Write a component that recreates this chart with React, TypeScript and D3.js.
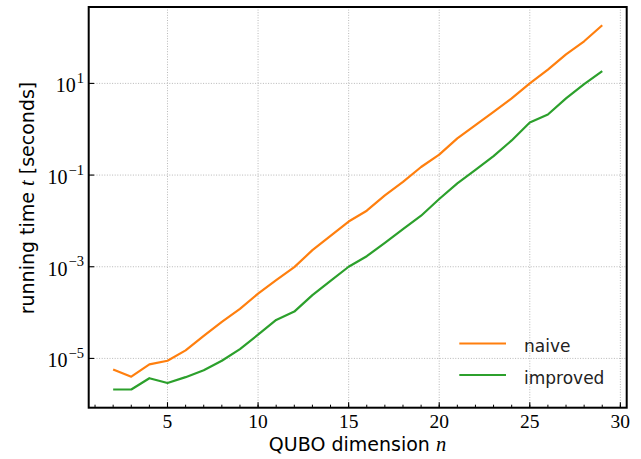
import React from "react";
import * as d3 from "d3";

const dims = [2,3,4,5,6,7,8,9,10,11,12,13,14,15,16,17,18,19,20,21,22,23,24,25,26,27,28,29];
const naive = [5.75e-6,4.0e-6,7.4e-6,8.9e-6,1.5e-5,3.1e-5,6.3e-5,1.2e-4,2.6e-4,5.1e-4,9.8e-4,2.3e-3,4.7e-3,9.7e-3,1.67e-2,3.6e-2,7.1e-2,0.15,0.28,0.63,1.23,2.4,4.7,10,20,43,83,186];
const improved = [2.1e-6,2.1e-6,3.7e-6,2.9e-6,3.9e-6,5.5e-6,8.9e-6,1.6e-5,3.3e-5,6.9e-5,1.05e-4,2.4e-4,4.9e-4,1.0e-3,1.7e-3,3.3e-3,6.6e-3,1.3e-2,3.0e-2,6.6e-2,0.13,0.26,0.57,1.4,2.1,4.7,9.6,18.6];
const xTicks = [5,10,15,20,25,30];
const yTickExps = [-5,-3,-1,1];
const seriesNames = ["naive","improved"];
const seriesColors = ["#ff7f0e","#2ca02c"];

const W = 641, H = 459;
const L = 88.7, R = 626.7, T = 7, B = 407.7;

export default function App() {
  const xmin = d3.min(dims)!, xmax = d3.max(dims)!;
  const xpad = (xmax - xmin) * 0.05;
  const x = d3.scaleLinear().domain([xmin - xpad, xmax + xpad]).range([L, R]);
  const all = naive.concat(improved);
  const lmin = Math.log10(d3.min(all)!), lmax = Math.log10(d3.max(all)!);
  const lpad = (lmax - lmin) * 0.05;
  const y = d3.scaleLog().domain([Math.pow(10, lmin - lpad), Math.pow(10, lmax + lpad)]).range([B, T]);
  const line = d3.line<number>().x((_, i) => x(dims[i])).y(d => y(d));
  const series = [naive, improved];
  const minorX = d3.range(1, 31);
  const serif = "'Liberation Serif', 'DejaVu Serif', serif";
  const sans = "'DejaVu Sans', sans-serif";
  return (
    <svg width={W} height={H} style={{ position: "absolute", left: 0, top: 0, background: "#fff" }}>
      <rect x={0} y={0} width={W} height={H} fill="#fff" />
      {xTicks.map(t => (
        <line key={"gx" + t} x1={x(t)} x2={x(t)} y1={T} y2={B} stroke="#b0b0b0" strokeWidth={0.9} strokeDasharray="1,1.6" />
      ))}
      {yTickExps.map(e => (
        <line key={"gy" + e} x1={L} x2={R} y1={y(Math.pow(10, e))} y2={y(Math.pow(10, e))} stroke="#b0b0b0" strokeWidth={0.9} strokeDasharray="1,1.6" />
      ))}
      {series.map((s, i) => (
        <path key={"s" + i} d={line(s)!} fill="none" stroke={seriesColors[i]} strokeWidth={2.2} strokeLinejoin="round" />
      ))}
      {minorX.map(t => (
        <line key={"mx" + t} x1={x(t)} x2={x(t)} y1={B} y2={B - 3} stroke="#000" strokeWidth={1} />
      ))}
      {xTicks.map(t => (
        <line key={"tx" + t} x1={x(t)} x2={x(t)} y1={B} y2={B - 5.5} stroke="#000" strokeWidth={1.1} />
      ))}
      {yTickExps.map(e => (
        <line key={"ty" + e} x1={L} x2={L + 5.5} y1={y(Math.pow(10, e))} y2={y(Math.pow(10, e))} stroke="#000" strokeWidth={1.1} />
      ))}
      <rect x={L} y={T} width={R - L} height={B - T} fill="none" stroke="#000" strokeWidth={2} />
      {xTicks.map(t => (
        <text key={"lx" + t} x={x(t)} y={427.5} textAnchor="middle" fontFamily={serif} fontSize={19.5}>{t}</text>
      ))}
      {yTickExps.map(e => (
        <text key={"ly" + e} x={84} y={y(Math.pow(10, e)) + 9} textAnchor="end" fontFamily={serif} fontSize={20}>
          10<tspan fontSize={14.5} dx={1} dy={-9.5}>{e < 0 ? "\u2212" + Math.abs(e) : String(e)}</tspan>
        </text>
      ))}
      <text x={357.5} y={451} textAnchor="middle" fontFamily={sans} fontSize={19}>
        QUBO dimension <tspan fontFamily={serif} fontStyle="italic" fontSize={20.5}>n</tspan>
      </text>
      <text transform="translate(34,198) rotate(-90)" textAnchor="middle" fontFamily={sans} fontSize={19}>
        running time <tspan fontFamily={serif} fontStyle="italic" fontSize={20.5}>t</tspan> [seconds]
      </text>
      {seriesNames.map((n, i) => (
        <g key={"lg" + n}>
          <line x1={459.3} x2={506} y1={343.5 + i * 31.5} y2={343.5 + i * 31.5} stroke={seriesColors[i]} strokeWidth={2.2} />
          <text x={524} y={352.3 + i * 31.2} fontFamily={sans} fontSize={17} fill="#222">{n}</text>
        </g>
      ))}
    </svg>
  );
}
